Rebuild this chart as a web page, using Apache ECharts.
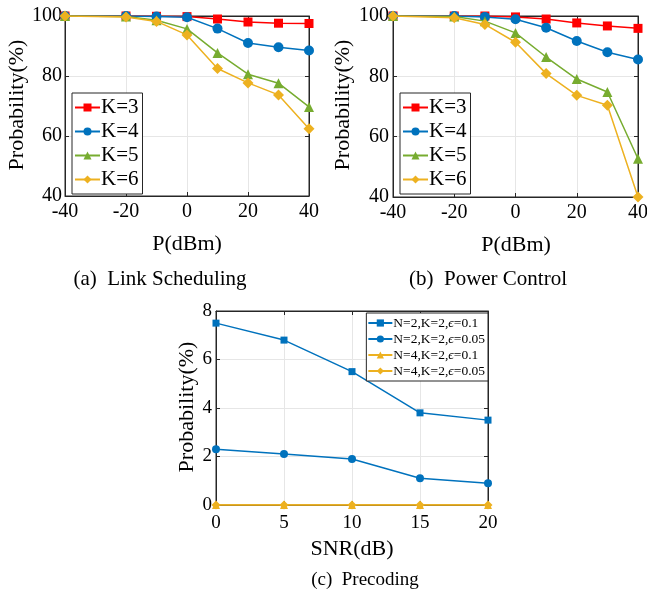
<!DOCTYPE html>
<html>
<head>
  <meta charset="UTF-8">
  <title>Probability</title>
  <style>
    html, body { margin: 0; padding: 0; background: #fff; }
    #myChart { width: 647px; height: 593px; }
  </style>
</head>
<body>
  <div id="myChart"></div>
  <script src="https://cdn.jsdelivr.net/npm/echarts@6/dist/echarts.min.js"></script>
  <script>
    // (a) Link Scheduling / (b) Power Control
    const powerX = [-40, -20, -10, 0, 10, 20, 30, 40];
    const kNames = ['K=3', 'K=4', 'K=5', 'K=6'];
    const linkK3 = [100, 100, 99.9, 99.8, 99.0, 98.0, 97.6, 97.5];
    const linkK4 = [100, 100, 99.8, 99.6, 95.8, 91.0, 89.6, 88.5];
    const linkK5 = [100, 99.8, 98.6, 95.7, 87.7, 80.6, 77.6, 69.7];
    const linkK6 = [100, 99.7, 98.2, 93.7, 82.5, 77.7, 73.7, 62.4];
    const powerK3 = [100, 100, 100, 99.7, 99.0, 97.7, 96.7, 95.9];
    const powerK4 = [100, 100, 99.7, 98.9, 96.1, 91.7, 88.0, 85.6];
    const powerK5 = [100, 99.8, 98.3, 94.4, 86.4, 79.1, 74.8, 52.7];
    const powerK6 = [100, 99.4, 97.2, 91.3, 80.9, 73.7, 70.4, 40.0];
    // (c) Precoding
    const snrX = [0, 5, 10, 15, 20];
    const preNames = ['N=2,K=2,ϵ=0.1', 'N=2,K=2,ϵ=0.05', 'N=4,K=2,ϵ=0.1', 'N=4,K=2,ϵ=0.05'];
    const preN2e01 = [7.5, 6.8, 5.5, 3.8, 3.5];
    const preN2e005 = [2.3, 2.1, 1.9, 1.1, 0.9];
    const preN4e01 = [0, 0, 0, 0, 0];
    const preN4e005 = [0, 0, 0, 0, 0];

    const font = 'Liberation Serif';
    const colors = ['#ff0000', '#0072bd', '#77ac30', '#edb120'];
    const symbols = ['rect', 'circle', 'triangle', 'diamond'];
    const symbolSizes = [9, 10, 10, 11];

    const pairs = (xs, ys) => xs.map((x, i) => [x, ys[i]]);

    function axisOf(idx, min, max, interval, labelSize, margin) {
      return {
        type: 'value', gridIndex: idx, min: min, max: max, interval: interval,
        axisLine: { show: true, onZero: false, lineStyle: { color: '#262626' } },
        axisTick: { show: true, inside: true, length: 4, lineStyle: { color: '#262626' } },
        axisLabel: { fontFamily: font, fontSize: labelSize, color: '#000', margin: margin },
        splitLine: { show: true, lineStyle: { color: '#e6e6e6' } }
      };
    }
    // mirror axis on top / right, ticks only (MATLAB box)
    function mirrorOf(idx, min, max, interval, pos) {
      return {
        type: 'value', gridIndex: idx, min: min, max: max, interval: interval, position: pos,
        axisLine: { show: true, onZero: false, lineStyle: { color: '#262626' } },
        axisTick: { show: true, inside: true, length: 4, lineStyle: { color: '#262626' } },
        axisLabel: { show: false },
        splitLine: { show: false }
      };
    }
    function lineSeries(name, idx, xs, ys, c, s, size, z) {
      return {
        name: name, type: 'line', xAxisIndex: idx, yAxisIndex: idx,
        data: pairs(xs, ys), symbol: s, symbolSize: size, z: z,
        clip: true,
        lineStyle: { color: c, width: 1.5 },
        itemStyle: { color: c }
      };
    }
    function label(text, x, y, size, vertical) {
      return {
        type: 'text', x: x, y: y, rotation: vertical ? Math.PI / 2 : 0,
        style: { text: text, font: size + 'px "' + font + '"', fill: '#000', align: 'center', verticalAlign: 'middle' }
      };
    }

    const series = [];
    const linkData = [linkK3, linkK4, linkK5, linkK6];
    const powerData = [powerK3, powerK4, powerK5, powerK6];
    kNames.forEach((n, i) => {
      series.push(lineSeries(n, 0, powerX, linkData[i], colors[i], symbols[i], symbolSizes[i], 2 + i));
      series.push(lineSeries(n, 1, powerX, powerData[i], colors[i], symbols[i], symbolSizes[i], 2 + i));
    });
    const preData = [preN2e01, preN2e005, preN4e01, preN4e005];
    const preColors = ['#0072bd', '#0072bd', '#edb120', '#edb120'];
    const preSizes = [7, 8, 8, 9];
    preNames.forEach((n, i) => {
      series.push(lineSeries(n, 2, snrX, preData[i], preColors[i], symbols[i], preSizes[i], 2 + i));
    });

    const legendK = (left) => ({
      data: kNames, left: left, top: 93, orient: 'vertical',
      itemWidth: 25, itemHeight: 10, itemGap: 3,
      padding: [4, 4, 4, 2],
      borderColor: '#262626', borderWidth: 1, backgroundColor: '#fff',
      textStyle: { fontFamily: font, fontSize: 21, lineHeight: 20, color: '#000', padding: [0, 0, 0, -4] },
      selectedMode: false
    });

    const captionStyle = { fontFamily: font, fontSize: 21, color: '#000', fontWeight: 'normal' };
    const gridBox = { show: true, borderColor: '#262626', borderWidth: 1, outerBoundsMode: 'none', containLabel: false };
    const preText = { fontFamily: font, fontSize: 13.5, lineHeight: 14, color: '#000' };

    const myChart = echarts.init(document.getElementById('myChart'));
    const option = {
      animation: false,
      backgroundColor: '#fff',
      title: [
        { text: '(a)  Link Scheduling', left: 155, top: 264, textAlign: 'center', textStyle: captionStyle },
        { text: '(b)  Power Control', left: 483, top: 264, textAlign: 'center', textStyle: captionStyle },
        { text: '(c)  Precoding', left: 360, top: 566, textAlign: 'center',
          textStyle: Object.assign({}, captionStyle, { fontSize: 19 }) }
      ],
      grid: [
        Object.assign({ left: 65, top: 16, width: 244, height: 180 }, gridBox),
        Object.assign({ left: 393, top: 16, width: 245, height: 181 }, gridBox),
        Object.assign({ left: 216, top: 311, width: 272, height: 194 }, gridBox)
      ],
      xAxis: [
        axisOf(0, -40, 40, 20, 20, 6),
        axisOf(1, -40, 40, 20, 20, 6),
        axisOf(2, 0, 20, 5, 19, 9),
        mirrorOf(0, -40, 40, 20, 'top'),
        mirrorOf(1, -40, 40, 20, 'top'),
        mirrorOf(2, 0, 20, 5, 'top')
      ],
      yAxis: [
        axisOf(0, 40, 100, 20, 20, 3),
        axisOf(1, 40, 100, 20, 20, 4),
        axisOf(2, 0, 8, 2, 19, 4),
        mirrorOf(0, 40, 100, 20, 'right'),
        mirrorOf(1, 40, 100, 20, 'right'),
        mirrorOf(2, 0, 8, 2, 'right')
      ],
      graphic: [
        label('P(dBm)', 187, 244, 22, false),
        label('P(dBm)', 516, 245, 22, false),
        label('SNR(dB)', 352, 549, 22, false),
        label('Probability(%)', 17, 105, 22, true),
        label('Probability(%)', 343, 105, 22, true),
        label('Probability(%)', 187, 407, 22, true)
      ],
      legend: [
        legendK(72),
        legendK(400),
        {
          data: preNames, right: 159, top: 313, orient: 'vertical',
          itemWidth: 24, itemHeight: 9, itemGap: 2,
          padding: [3, 3, 3, 1],
          borderColor: '#262626', borderWidth: 1, backgroundColor: '#fff',
          formatter: (name) => name.replace('ϵ', '{e|ϵ}'),
          textStyle: Object.assign({ padding: [0, 0, 0, -4], rich: {
            e: Object.assign({ fontStyle: 'italic' }, preText)
          } }, preText),
          selectedMode: false
        }
      ],
      series: series
    };
    myChart.setOption(option);
  </script>
</body>
</html>
